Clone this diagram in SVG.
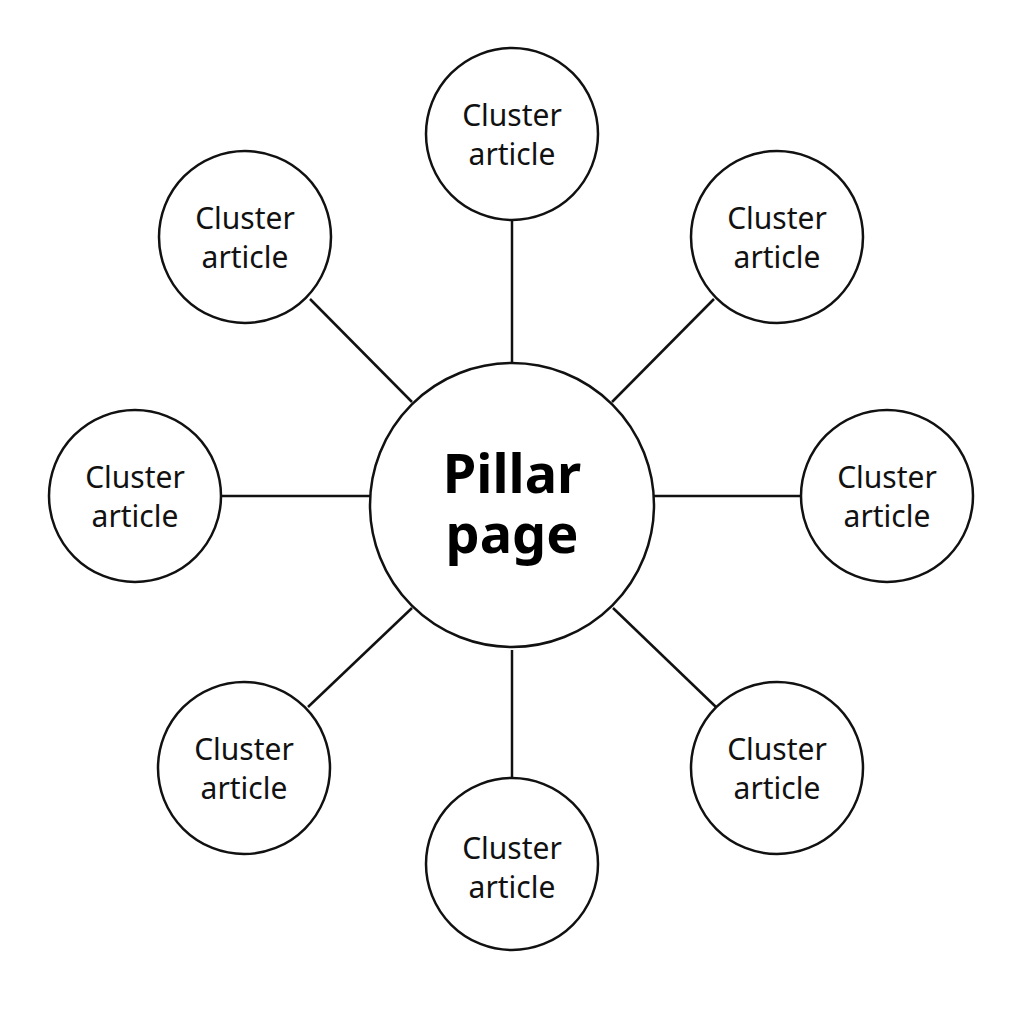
<svg xmlns="http://www.w3.org/2000/svg" width="1024" height="1024" viewBox="0 0 1024 1024">
<style>
.n{fill:#fff;stroke:#111;stroke-width:2.5}
.c line{stroke:#111;stroke-width:2.5}
.t{font-family:"Noto Sans","Open Sans",sans-serif;font-size:30px;fill:#111;text-anchor:middle}
.p{font-family:"Noto Sans","Open Sans",sans-serif;font-size:54px;font-weight:bold;fill:#000;text-anchor:middle}
</style>
<rect width="1024" height="1024" fill="#fff"/>
<g class="c" id="connectors">
<line x1="512" y1="220" x2="512" y2="362"/>
<line x1="310" y1="299" x2="412" y2="402"/>
<line x1="714" y1="299" x2="612" y2="402"/>
<line x1="220" y1="496" x2="370" y2="496"/>
<line x1="654" y1="496" x2="802" y2="496"/>
<line x1="308" y1="707" x2="412" y2="608"/>
<line x1="716" y1="707" x2="613" y2="608"/>
<line x1="512" y1="650" x2="512" y2="778"/>
</g>
<g id="pillar"><circle class="n" cx="512" cy="505" r="142"/><text class="p" x="512" y="493">Pillar</text><text class="p" x="512" y="553">page</text></g>
<g id="c1"><circle class="n" cx="512" cy="134" r="86"/><text class="t" x="512" y="126">Cluster</text><text class="t" x="512" y="165">article</text></g>
<g id="c2"><circle class="n" cx="245" cy="237" r="86"/><text class="t" x="245" y="229">Cluster</text><text class="t" x="245" y="268">article</text></g>
<g id="c3"><circle class="n" cx="777" cy="237" r="86"/><text class="t" x="777" y="229">Cluster</text><text class="t" x="777" y="268">article</text></g>
<g id="c4"><circle class="n" cx="135" cy="496" r="86"/><text class="t" x="135" y="488">Cluster</text><text class="t" x="135" y="527">article</text></g>
<g id="c5"><circle class="n" cx="887" cy="496" r="86"/><text class="t" x="887" y="488">Cluster</text><text class="t" x="887" y="527">article</text></g>
<g id="c6"><circle class="n" cx="244" cy="768" r="86"/><text class="t" x="244" y="760">Cluster</text><text class="t" x="244" y="799">article</text></g>
<g id="c7"><circle class="n" cx="777" cy="768" r="86"/><text class="t" x="777" y="760">Cluster</text><text class="t" x="777" y="799">article</text></g>
<g id="c8"><circle class="n" cx="512" cy="864" r="86"/><text class="t" x="512" y="859">Cluster</text><text class="t" x="512" y="898">article</text></g>
</svg>
